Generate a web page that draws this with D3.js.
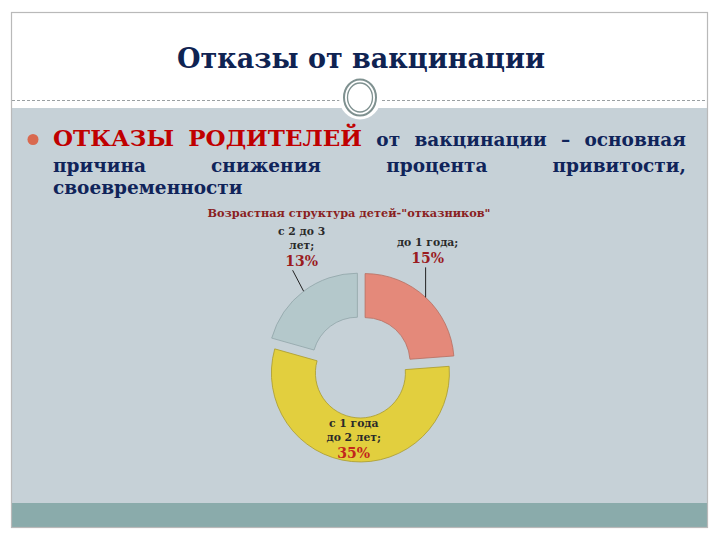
<!DOCTYPE html>
<html><head><meta charset="utf-8">
<script src="https://cdn.jsdelivr.net/npm/d3@7"></script>
<style>html,body{margin:0;padding:0;background:#fff;}svg{display:block;}</style>
</head><body>
<svg id="c" width="720" height="540"></svg>
<script>
// ---- data ----
const slideTitle = "Отказы от вакцинации";
const chartTitle = "Возрастная структура детей-\"отказников\"";
const categories = ["до 1 года", "с 1 года до 2 лет", "с 2 до 3 лет"];
const values = [15, 35, 13];
const labelLines = [["до 1 года;"], ["с 1 года", "до 2 лет;"], ["с 2 до 3", "лет;"]];
const sliceColors = ["#e4897a", "#e2cf3e", "#b4c8cb"];
const sliceStrokes = ["#b66f61", "#a99a2c", "#90a5a8"];
const bulletLine1 = [["ОТКАЗЫ", "red"], ["РОДИТЕЛЕЙ", "red"], ["от", "navy"], ["вакцинации", "navy"], ["–", "navy"], ["основная", "navy"]];
const bulletLine2 = ["причина", "снижения", "процента", "привитости,"];
const bulletLine3 = ["своевременности"];

// ---- layout ----
const svg = d3.select("#c");
const serif = "'DejaVu Serif','Liberation Serif',serif";
const navy = "#10245a";
const red = "#c00000";

svg.append("rect").attr("x",0).attr("y",0).attr("width",720).attr("height",540).attr("fill","#fff");
svg.append("rect").attr("x",12).attr("y",108).attr("width",695).attr("height",395).attr("fill","#c6d1d7");
svg.append("rect").attr("x",12).attr("y",503).attr("width",695).attr("height",25).attr("fill","#8aabab");
svg.append("rect").attr("x",11.5).attr("y",12.5).attr("width",696).attr("height",515)
  .attr("fill","none").attr("stroke","#b9b9b9").attr("stroke-width",1.2);
svg.append("line").attr("x1",12).attr("x2",707).attr("y1",100.5).attr("y2",100.5)
  .attr("stroke","#9aa0a2").attr("stroke-width",1).attr("stroke-dasharray","3,2");
svg.append("ellipse").attr("cx",360).attr("cy",97.5).attr("rx",21).attr("ry",22).attr("fill","#fff");
svg.append("ellipse").attr("cx",360).attr("cy",97.5).attr("rx",16).attr("ry",18).attr("fill","none").attr("stroke","#7f9190").attr("stroke-width",2);
svg.append("ellipse").attr("cx",360).attr("cy",97.5).attr("rx",12.5).attr("ry",14.5).attr("fill","none").attr("stroke","#7f9190").attr("stroke-width",1.3);

// slide title
svg.append("text").attr("x",361).attr("y",68).attr("text-anchor","middle")
  .attr("font-family",serif).attr("font-weight","bold").attr("font-size",27)
  .attr("fill","#0f2352").text(slideTitle);

// bullet
svg.append("circle").attr("cx",33).attr("cy",139.5).attr("r",5.5).attr("fill","#d9694f");

function justifyLine(words, y, x0, x1, justify) {
  const g = svg.append("g");
  const nodes = words.map(w => {
    const isRed = w[1] === "red";
    return g.append("text").attr("y", y)
      .attr("font-family", serif).attr("font-weight","bold")
      .attr("font-size", isRed ? 23 : 18.5)
      .attr("fill", isRed ? red : navy).text(w[0]);
  });
  const widths = nodes.map(n => n.node().getComputedTextLength());
  const total = d3.sum(widths);
  const gap = justify && nodes.length > 1 ? (x1 - x0 - total) / (nodes.length - 1) : 6;
  let x = x0;
  nodes.forEach((n, i) => { n.attr("x", x); x += widths[i] + gap; });
}
justifyLine(bulletLine1, 146, 53, 686, true);
justifyLine(bulletLine2.map(w => [w, "navy"]), 172, 53, 686, true);
justifyLine(bulletLine3.map(w => [w, "navy"]), 194, 53, 686, false);

// chart title
svg.append("text").attr("x",349).attr("y",217).attr("text-anchor","middle")
  .attr("font-family","'DejaVu Serif',serif").attr("font-weight","bold").attr("font-size",11.3)
  .attr("fill","#8a1f22").text(chartTitle);

// donut
const cx = 361, cy = 367, R = 89, r = 45, explode = 6;
const pie = d3.pie().sort(null).value(d => d)(values);
const arc = d3.arc().innerRadius(r).outerRadius(R);
const g = svg.append("g").attr("transform", `translate(${cx},${cy})`);
const off = d => { const m = (d.startAngle + d.endAngle) / 2; return [explode*Math.sin(m), -explode*Math.cos(m)]; };
g.selectAll("path.slice").data(pie).join("path").attr("class","slice")
  .attr("transform", d => `translate(${off(d)})`)
  .attr("d", arc).attr("fill", (d,i) => sliceColors[i])
  .attr("stroke", (d,i) => sliceStrokes[i]).attr("stroke-width", 0.8);

// labels
const lblFont = "'DejaVu Serif',serif";
const leaderDelta = [[0,-30],null,[-11,-21]];
const pctColors = ["#9a1b1f", "#c3261c", "#9a1b1f"];
function lbl(x, y, t) {
  g.append("text").attr("x",x).attr("y",y).attr("text-anchor","middle")
    .attr("font-family",lblFont).attr("font-weight","bold").attr("font-size",10.8)
    .attr("fill","#2a2a2a").text(t);
}
function pct(x, y, i) {
  g.append("text").attr("x",x).attr("y",y).attr("text-anchor","middle")
    .attr("font-family",lblFont).attr("font-weight","bold").attr("font-size",14)
    .attr("fill",pctColors[i]).text(values[i] + "%");
}
pie.forEach((d, i) => {
  const m = (d.startAngle + d.endAngle) / 2;
  const [ox, oy] = off(d);
  if (leaderDelta[i]) {
    const px = ox + R*Math.sin(m), py = oy - R*Math.cos(m);
    const ex = px + leaderDelta[i][0], ey = py + leaderDelta[i][1];
    g.append("line").attr("x1",px).attr("y1",py).attr("x2",ex).attr("y2",ey)
      .attr("stroke","#222").attr("stroke-width",1);
    const tx = ex + (i === 0 ? 2 : 9);
    const pctY = ey - 4;
    pct(tx, pctY, i);
    labelLines[i].slice().reverse().forEach((t, k) => lbl(tx, pctY - 17 - k*14, t));
  } else {
    const rad = 67;
    const tx = ox + rad*Math.sin(m), ty = oy - rad*Math.cos(m);
    labelLines[i].forEach((t, k) => lbl(tx, ty - 13 + k*14, t));
    pct(tx, ty + 18, i);
  }
});
</script>
</body></html>
